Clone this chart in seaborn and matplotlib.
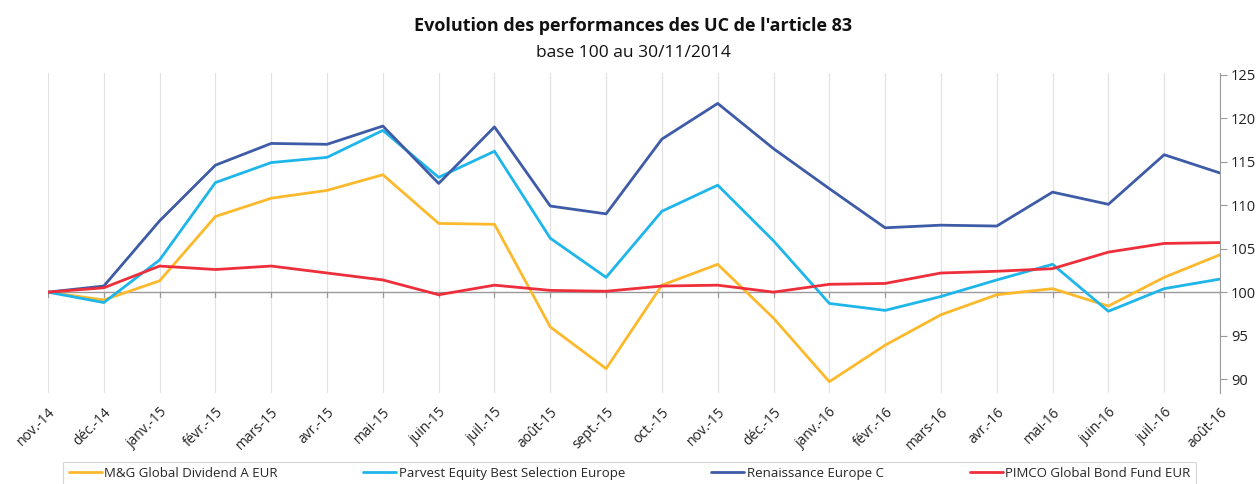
import pandas as pd
import seaborn as sns
import matplotlib.pyplot as plt

mois = ["nov.-14", "déc.-14", "janv.-15", "févr.-15", "mars-15", "avr.-15", "mai-15",
        "juin-15", "juil.-15", "août-15", "sept.-15", "oct.-15", "nov.-15", "déc.-15",
        "janv.-16", "févr.-16", "mars-16", "avr.-16", "mai-16", "juin-16", "juil.-16",
        "août-16"]

mg_dividend = [100, 99.1, 101.3, 108.7, 110.8, 111.7, 113.5, 107.9, 107.8, 96.0, 91.2,
               100.8, 103.2, 97.0, 89.7, 93.9, 97.4, 99.7, 100.4, 98.4, 101.7, 104.3]
parvest = [100, 98.8, 103.7, 112.6, 114.9, 115.5, 118.6, 113.2, 116.2, 106.2, 101.7,
           109.3, 112.3, 105.9, 98.7, 97.9, 99.5, 101.4, 103.2, 97.8, 100.4, 101.5]
renaissance = [100, 100.7, 108.2, 114.6, 117.1, 117.0, 119.1, 112.5, 119.0, 109.9, 109.0,
               117.6, 121.7, 116.5, 111.9, 107.4, 107.7, 107.6, 111.5, 110.1, 115.8, 113.7]
pimco = [100, 100.5, 103.0, 102.6, 103.0, 102.2, 101.4, 99.7, 100.8, 100.2, 100.1,
         100.7, 100.8, 100.0, 100.9, 101.0, 102.2, 102.4, 102.7, 104.6, 105.6, 105.7]

fonds = ["M&G Global Dividend A EUR", "Parvest Equity Best Selection Europe",
         "Renaissance Europe C", "PIMCO Global Bond Fund EUR"]
couleurs = ["#FDB92C", "#1EB6EA", "#3D5BA6", "#EE2E3A"]

rows = []
for nom, serie in zip(fonds, [mg_dividend, parvest, renaissance, pimco]):
    for i, v in enumerate(serie):
        rows.append({"idx": i, "valeur": v, "fonds": nom})
df = pd.DataFrame(rows)

sns.set_style("white")
plt.rcParams['font.family'] = ['Open Sans', 'DejaVu Sans']

fig = plt.figure(figsize=(12.59, 4.84), dpi=100)
ax = fig.add_axes([48 / 1259, 1 - 393 / 484, (1220 - 48) / 1259, (393 - 73) / 484])

sns.lineplot(data=df, x="idx", y="valeur", hue="fonds", palette=couleurs,
             linewidth=2.0, ax=ax, legend=False)

ax.set_xlim(0, len(mois) - 1)
ax.set_ylim(88.4, 125.2)

# grille verticale + ligne d'axe a 100
for i in range(len(mois)):
    ax.axvline(i, color="#e2e2e2", linewidth=0.9, zorder=0)
    ax.plot([i, i], [100, 99.4], color="#9a9a9a", linewidth=0.9, zorder=1)
ax.axhline(100, color="#9a9a9a", linewidth=1.0, zorder=1)

for s in ["left", "top", "bottom"]:
    ax.spines[s].set_visible(False)
ax.spines["right"].set_color("#9a9a9a")
ax.yaxis.tick_right()
ax.set_yticks([90, 95, 100, 105, 110, 115, 120, 125])
ax.tick_params(axis="y", right=True, length=5, color="#9a9a9a", labelsize=10.5,
               labelcolor="#222222", pad=3)

ax.set_xticks(range(len(mois)))
ax.set_xticklabels(mois, rotation=45, ha="right", rotation_mode="anchor",
                   fontsize=10, color="#222222")
ax.tick_params(axis="x", bottom=False, pad=5)
ax.set_xlabel("")
ax.set_ylabel("")

fig.text(0.503, 0.947, "Evolution des performances des UC de l'article 83",
         ha="center", va="center", fontsize=13, fontweight="bold", color="#111111")
fig.text(0.503, 0.891, "base 100 au 30/11/2014", ha="center", va="center",
         fontsize=12.5, color="#111111")

handles = [plt.Line2D([], [], color=c, linewidth=2) for c in couleurs]
leg = fig.legend(handles, fonds, loc="upper center", bbox_to_anchor=(0.5, 0.046),
                 ncol=4, frameon=True, fancybox=False, fontsize=9.5,
                 columnspacing=6.5, handlelength=2.5, handletextpad=0.2,
                 borderpad=0.4, borderaxespad=0.0)
leg.get_frame().set_edgecolor("#cccccc")
leg.get_frame().set_linewidth(0.8)

fig.savefig("out.png", dpi=100)
